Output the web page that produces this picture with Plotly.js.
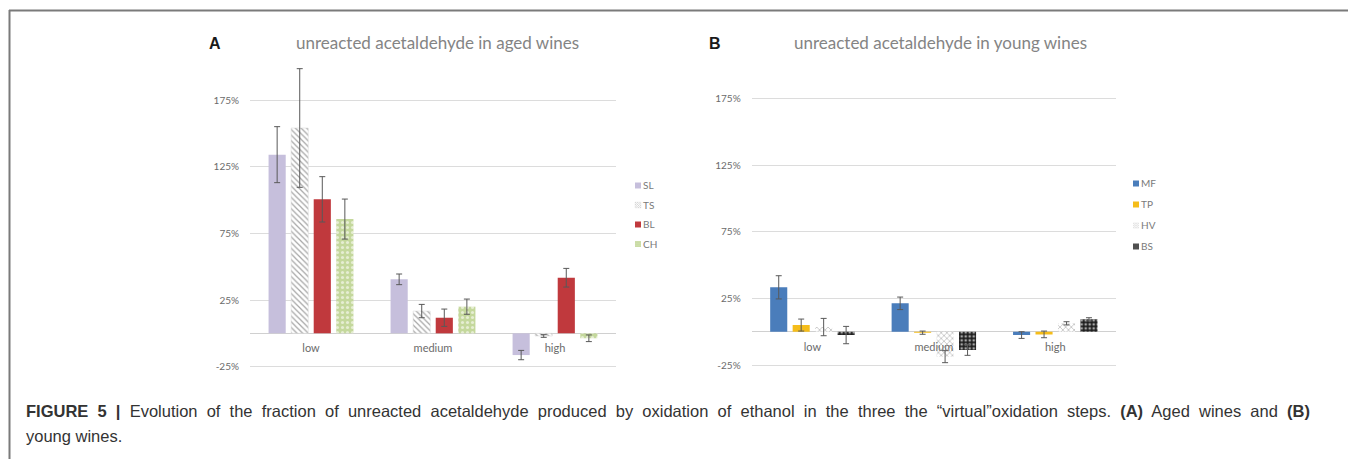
<!DOCTYPE html>
<html>
<head>
<meta charset="utf-8">
<script src="https://cdn.plot.ly/plotly-3.0.1.min.js"></script>
<style>
  html, body { margin: 0; padding: 0; background: #fff; }
  #chart { width: 1348px; height: 459px; }
</style>
</head>
<body>
<div id="chart"></div>
<script>
// ---- data ----
const categories = ['low', 'medium', 'high'];

// Panel A: aged wines (%)
const SL = [134, 40.5, -16.3];
const SL_err = [21, 4, 3.5];
const TS = [154, 16.7, -2];
const TS_err = [44.5, 5, 1];
const BL = [100.5, 11.7, 41.7];
const BL_err = [17, 6.5, 7];
const CH = [85.7, 20, -3.7];
const CH_err = [15, 5.7, 2.5];

// Panel B: young wines (%)
const MF = [33.3, 21.3, -2.5];
const MF_err = [8.7, 4.7, 2.5];
const TP = [5, -0.7, -2];
const TP_err = [4.5, 1.2, 2.5];
const HV = [3.5, -18.7, 6.3];
const HV_err = [6.5, 4.5, 1.2];
const BS = [-2.5, -13.7, 9.3];
const BS_err = [6.5, 4, 1.2];

const yTickVals = [-25, 25, 75, 125, 175];
const yTickText = ['-25%', '25%', '75%', '125%', '175%'];

const titleA = 'unreacted acetaldehyde in aged wines';
const titleB = 'unreacted acetaldehyde in young wines';
const captionLine1 = '<b>FIGURE 5 |</b> Evolution of the fraction of unreacted acetaldehyde produced by oxidation of ethanol in the three the \u201cvirtual\u201doxidation steps. <b>(A)</b> Aged wines and <b>(B)</b>';
const captionLine2 = 'young wines.';

// ---- helpers ----
const W = 1348, H = 459;
const px = v => v / W;
const py = v => 1 - v / H;
const errStyle = arr => ({type: 'data', array: arr, visible: true, color: '#595959', thickness: 1, width: 3});

function bar(name, y, err, marker, xa, ya, legend) {
  return {
    type: 'bar', name: name, x: categories, y: y,
    error_y: errStyle(err), marker: marker,
    xaxis: xa, yaxis: ya, legend: legend, legendgroup: name,
    hoverinfo: 'name+y'
  };
}

const traces = [
  bar('SL', SL, SL_err, {color: '#c6bfdc'}, 'x', 'y', 'legend'),
  bar('TS', TS, TS_err, {color: '#ffffff', line: {color: '#d6d6d6', width: 0.5},
      pattern: {shape: '\\', fgcolor: '#a5a5a5', bgcolor: '#ffffff', size: 4, solidity: 0.3, fillmode: 'replace'}}, 'x', 'y', 'legend'),
  bar('BL', BL, BL_err, {color: '#c0393d'}, 'x', 'y', 'legend'),
  bar('CH', CH, CH_err, {color: '#c4d89c',
      pattern: {shape: '.', fgcolor: '#e6eed3', bgcolor: '#c4d89c', size: 5, solidity: 0.3, fillmode: 'replace'}}, 'x', 'y', 'legend'),

  bar('MF', MF, MF_err, {color: '#4a7dbb'}, 'x2', 'y2', 'legend2'),
  bar('TP', TP, TP_err, {color: '#f5bd1a'}, 'x2', 'y2', 'legend2'),
  bar('HV', HV, HV_err, {color: '#ffffff',
      pattern: {shape: 'x', fgcolor: '#bdbdbd', bgcolor: '#ffffff', size: 4, solidity: 0.35, fillmode: 'replace'}}, 'x2', 'y2', 'legend2'),
  bar('BS', BS, BS_err, {color: '#1e1e1e',
      pattern: {shape: '.', fgcolor: '#a8a8a8', bgcolor: '#1e1e1e', size: 4, solidity: 0.35, fillmode: 'replace'}}, 'x2', 'y2', 'legend2')
];

const tickFont = {family: 'Lato, "Open Sans", sans-serif', size: 10, color: '#6b6b6b'};
const catFont = {family: 'Lato, "Open Sans", sans-serif', size: 11, color: '#6b6b6b'};

function yAxis(domain, anchor) {
  return {
    domain: domain, anchor: anchor, range: [-31.25, 205],
    tickvals: yTickVals, ticktext: yTickText, tickfont: tickFont,
    showgrid: true, gridcolor: '#dcdcdc', gridwidth: 1,
    zeroline: true, zerolinecolor: '#d0d0d0', zerolinewidth: 1,
    showline: false, ticks: '', ticklabelstandoff: 10, fixedrange: true
  };
}
function xAxis(domain, pos) {
  return {
    domain: domain, anchor: 'free', position: pos,
    type: 'category', tickfont: catFont, showgrid: false, zeroline: false,
    showline: false, ticks: '', ticklabelstandoff: 7, fixedrange: true
  };
}

const legendFont = {family: 'Lato, "Open Sans", sans-serif', size: 10, color: '#7a7a7a'};
const captionFont = {family: '"Liberation Sans", Arial, sans-serif', size: 16.5, color: '#333333'};

const layout = {
  width: W, height: H,
  margin: {l: 0, r: 0, t: 0, b: 0},
  paper_bgcolor: '#ffffff', plot_bgcolor: '#ffffff',
  barmode: 'group', bargap: 0.26, bargroupgap: 0.24,
  showlegend: true,
  xaxis: xAxis([px(250), px(616)], py(333.3)),
  yaxis: yAxis([py(375), py(60)], 'x'),
  xaxis2: xAxis([px(751.7), px(1116)], py(331.7)),
  yaxis2: yAxis([py(373.4), py(58.4)], 'x2'),
  legend: {x: px(603), y: py(171), xanchor: 'left', yanchor: 'top', font: legendFont,
           bgcolor: 'rgba(0,0,0,0)', itemwidth: 30, traceorder: 'grouped', tracegroupgap: 0.5},
  legend2: {x: px(1101), y: py(169), xanchor: 'left', yanchor: 'top', font: legendFont,
           bgcolor: 'rgba(0,0,0,0)', itemwidth: 30, traceorder: 'grouped', tracegroupgap: 2},
  annotations: [
    {text: '<b>A</b>', xref: 'paper', yref: 'paper', x: px(215), y: py(44), xanchor: 'center', yanchor: 'middle',
     showarrow: false, font: {family: '"Liberation Sans", Arial, sans-serif', size: 16, color: '#1a1a1a'}},
    {text: '<b>B</b>', xref: 'paper', yref: 'paper', x: px(715), y: py(44), xanchor: 'center', yanchor: 'middle',
     showarrow: false, font: {family: '"Liberation Sans", Arial, sans-serif', size: 16, color: '#1a1a1a'}},
    {text: titleA, xref: 'paper', yref: 'paper', x: px(437), y: py(42), xanchor: 'center', yanchor: 'middle',
     showarrow: false, font: {family: 'Lato, "Open Sans", sans-serif', size: 17, color: '#848484'}},
    {text: titleB, xref: 'paper', yref: 'paper', x: px(940), y: py(42), xanchor: 'center', yanchor: 'middle',
     showarrow: false, font: {family: 'Lato, "Open Sans", sans-serif', size: 17, color: '#848484'}},
    {text: captionLine1, xref: 'paper', yref: 'paper', x: px(24), y: py(411), xanchor: 'left', yanchor: 'middle',
     showarrow: false, align: 'left', font: captionFont},
    {text: captionLine2, xref: 'paper', yref: 'paper', x: px(24), y: py(436), xanchor: 'left', yanchor: 'middle',
     showarrow: false, align: 'left', font: captionFont}
  ],
  shapes: [
    {type: 'line', xref: 'paper', yref: 'paper', x0: px(9), x1: 1, y0: py(10.5), y1: py(10.5),
     line: {color: '#7a7a7a', width: 2}},
    {type: 'line', xref: 'paper', yref: 'paper', x0: px(9.5), x1: px(9.5), y0: py(10), y1: 0,
     line: {color: '#7a7a7a', width: 2}}
  ]
};

Plotly.newPlot('chart', traces, layout, {displayModeBar: false, staticPlot: true}).then(function (gd) {
  // smaller legend swatches placed close to their labels (as in the original)
  gd.querySelectorAll('.legendpoints').forEach(function (g) {
    g.setAttribute('transform', 'translate(25,0) scale(0.5)');
  });
  // justify the first caption line to the full text width
  gd.querySelectorAll('.annotation-text').forEach(function (t) {
    const s = t.textContent || '';
    if (s.indexOf('FIGURE') === 0) {
      const w = t.getBBox().width;
      const gaps = (s.match(/ /g) || []).length;
      const target = 1308 - 24;
      if (gaps > 0 && w < target) t.style.wordSpacing = ((target - w) / gaps).toFixed(2) + 'px';
    }
  });
});
</script>
</body>
</html>
